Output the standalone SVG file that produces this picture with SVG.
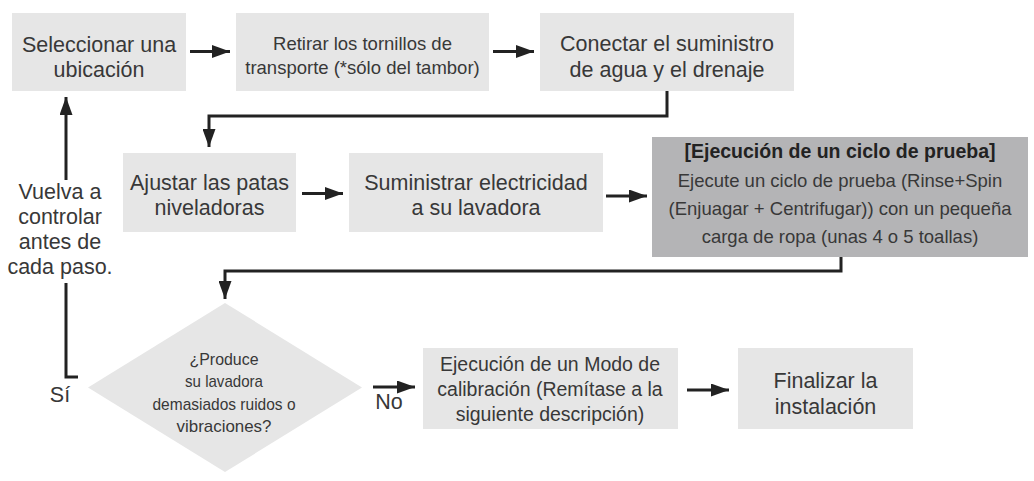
<svg xmlns="http://www.w3.org/2000/svg" width="1034" height="481" viewBox="0 0 1034 481">
<style>
.box{fill:#e6e6e6}
.dark{fill:#b4b4b6}
.t{font-family:"Liberation Sans",Arial,sans-serif;fill:#383838;text-anchor:middle}
.l{font-size:21.5px}
.m{font-size:18.5px}
.s{font-size:19.5px}
.d{font-size:17px}
.b{font-weight:bold;font-size:19.5px;fill:#222}
.c{fill:none;stroke:#222;stroke-width:3}
</style>
<defs>
<marker id="ah" markerUnits="userSpaceOnUse" markerWidth="18" markerHeight="13" refX="18" refY="6.5" orient="auto">
<path d="M0,0 L18,6.5 L0,13 z" fill="#222"/>
</marker>
</defs>
<rect width="1034" height="481" fill="#fff"/>

<g id="connectors">
<line class="c" x1="190" y1="51.5" x2="230" y2="51.5" marker-end="url(#ah)"/>
<line class="c" x1="493" y1="51.5" x2="534" y2="51.5" marker-end="url(#ah)"/>
<path class="c" d="M667,91 V116 H209 V147" marker-end="url(#ah)"/>
<line class="c" x1="302" y1="193.5" x2="343" y2="193.5" marker-end="url(#ah)"/>
<line class="c" x1="606" y1="196" x2="647" y2="196" marker-end="url(#ah)"/>
<path class="c" d="M841,257 V271 H225 V299" marker-end="url(#ah)"/>
<line class="c" x1="373" y1="387" x2="415" y2="387" marker-end="url(#ah)"/>
<line class="c" x1="687" y1="390" x2="729" y2="390" marker-end="url(#ah)"/>
<path class="c" d="M78,377 H66 V283"/>
<line class="c" x1="66" y1="180" x2="66" y2="97" marker-end="url(#ah)"/>
</g>

<g id="n1">
<rect class="box" x="12" y="13" width="174" height="78"/>
<text class="t l" x="99" y="52">Seleccionar una</text>
<text class="t l" x="99" y="77">ubicación</text>
</g>
<g id="n2">
<rect class="box" x="236" y="13" width="253" height="78"/>
<text class="t m" x="362.5" y="50">Retirar los tornillos de</text>
<text class="t m" x="362.5" y="74">transporte (*sólo del tambor)</text>
</g>
<g id="n3">
<rect class="box" x="540" y="13" width="254" height="78"/>
<text class="t l" x="667" y="51">Conectar el suministro</text>
<text class="t l" x="667" y="77">de agua y el drenaje</text>
</g>
<g id="n4">
<rect class="box" x="123" y="153" width="173" height="79"/>
<text class="t l" x="209.5" y="190">Ajustar las patas</text>
<text class="t l" x="209.5" y="215">niveladoras</text>
</g>
<g id="n5">
<rect class="box" x="349" y="153" width="254" height="79"/>
<text class="t l" x="476" y="190">Suministrar electricidad</text>
<text class="t l" x="476" y="215">a su lavadora</text>
</g>
<g id="n6">
<rect class="dark" x="652" y="137" width="376" height="120"/>
<text class="t b" x="840" y="158">[Ejecución de un ciclo de prueba]</text>
<text class="t m" x="840" y="187">Ejecute un ciclo de prueba (Rinse+Spin</text>
<text class="t m" x="840" y="215">(Enjuagar + Centrifugar)) con un pequeña</text>
<text class="t m" x="840" y="243">carga de ropa (unas 4 o 5 toallas)</text>
</g>
<g id="n7">
<polygon class="box" points="225,303 362,387.5 225,472 88,387.5"/>
<text class="t d" x="224" y="365" textLength="69" lengthAdjust="spacingAndGlyphs">¿Produce</text>
<text class="t d" x="224" y="387" textLength="78" lengthAdjust="spacingAndGlyphs">su lavadora</text>
<text class="t d" x="224" y="410" textLength="143" lengthAdjust="spacingAndGlyphs">demasiados ruidos o</text>
<text class="t d" x="224" y="432" textLength="95" lengthAdjust="spacingAndGlyphs">vibraciones?</text>
</g>
<g id="n8">
<rect class="box" x="423" y="348" width="255" height="81"/>
<text class="t s" x="550" y="371">Ejecución de un Modo de</text>
<text class="t s" x="550" y="396">calibración (Remítase a la</text>
<text class="t s" x="550" y="421">siguiente descripción)</text>
</g>
<g id="n9">
<rect class="box" x="738" y="348" width="175" height="81"/>
<text class="t l" x="825.5" y="388">Finalizar la</text>
<text class="t l" x="825.5" y="414">instalación</text>
</g>
<g id="labels">
<text class="t l" x="60" y="199">Vuelva a</text>
<text class="t l" x="60" y="224">controlar</text>
<text class="t l" x="60" y="249">antes de</text>
<text class="t l" x="60" y="274">cada paso.</text>
<text class="t l" x="60" y="402">Sí</text>
<text class="t l" x="389" y="409">No</text>
</g>
</svg>
